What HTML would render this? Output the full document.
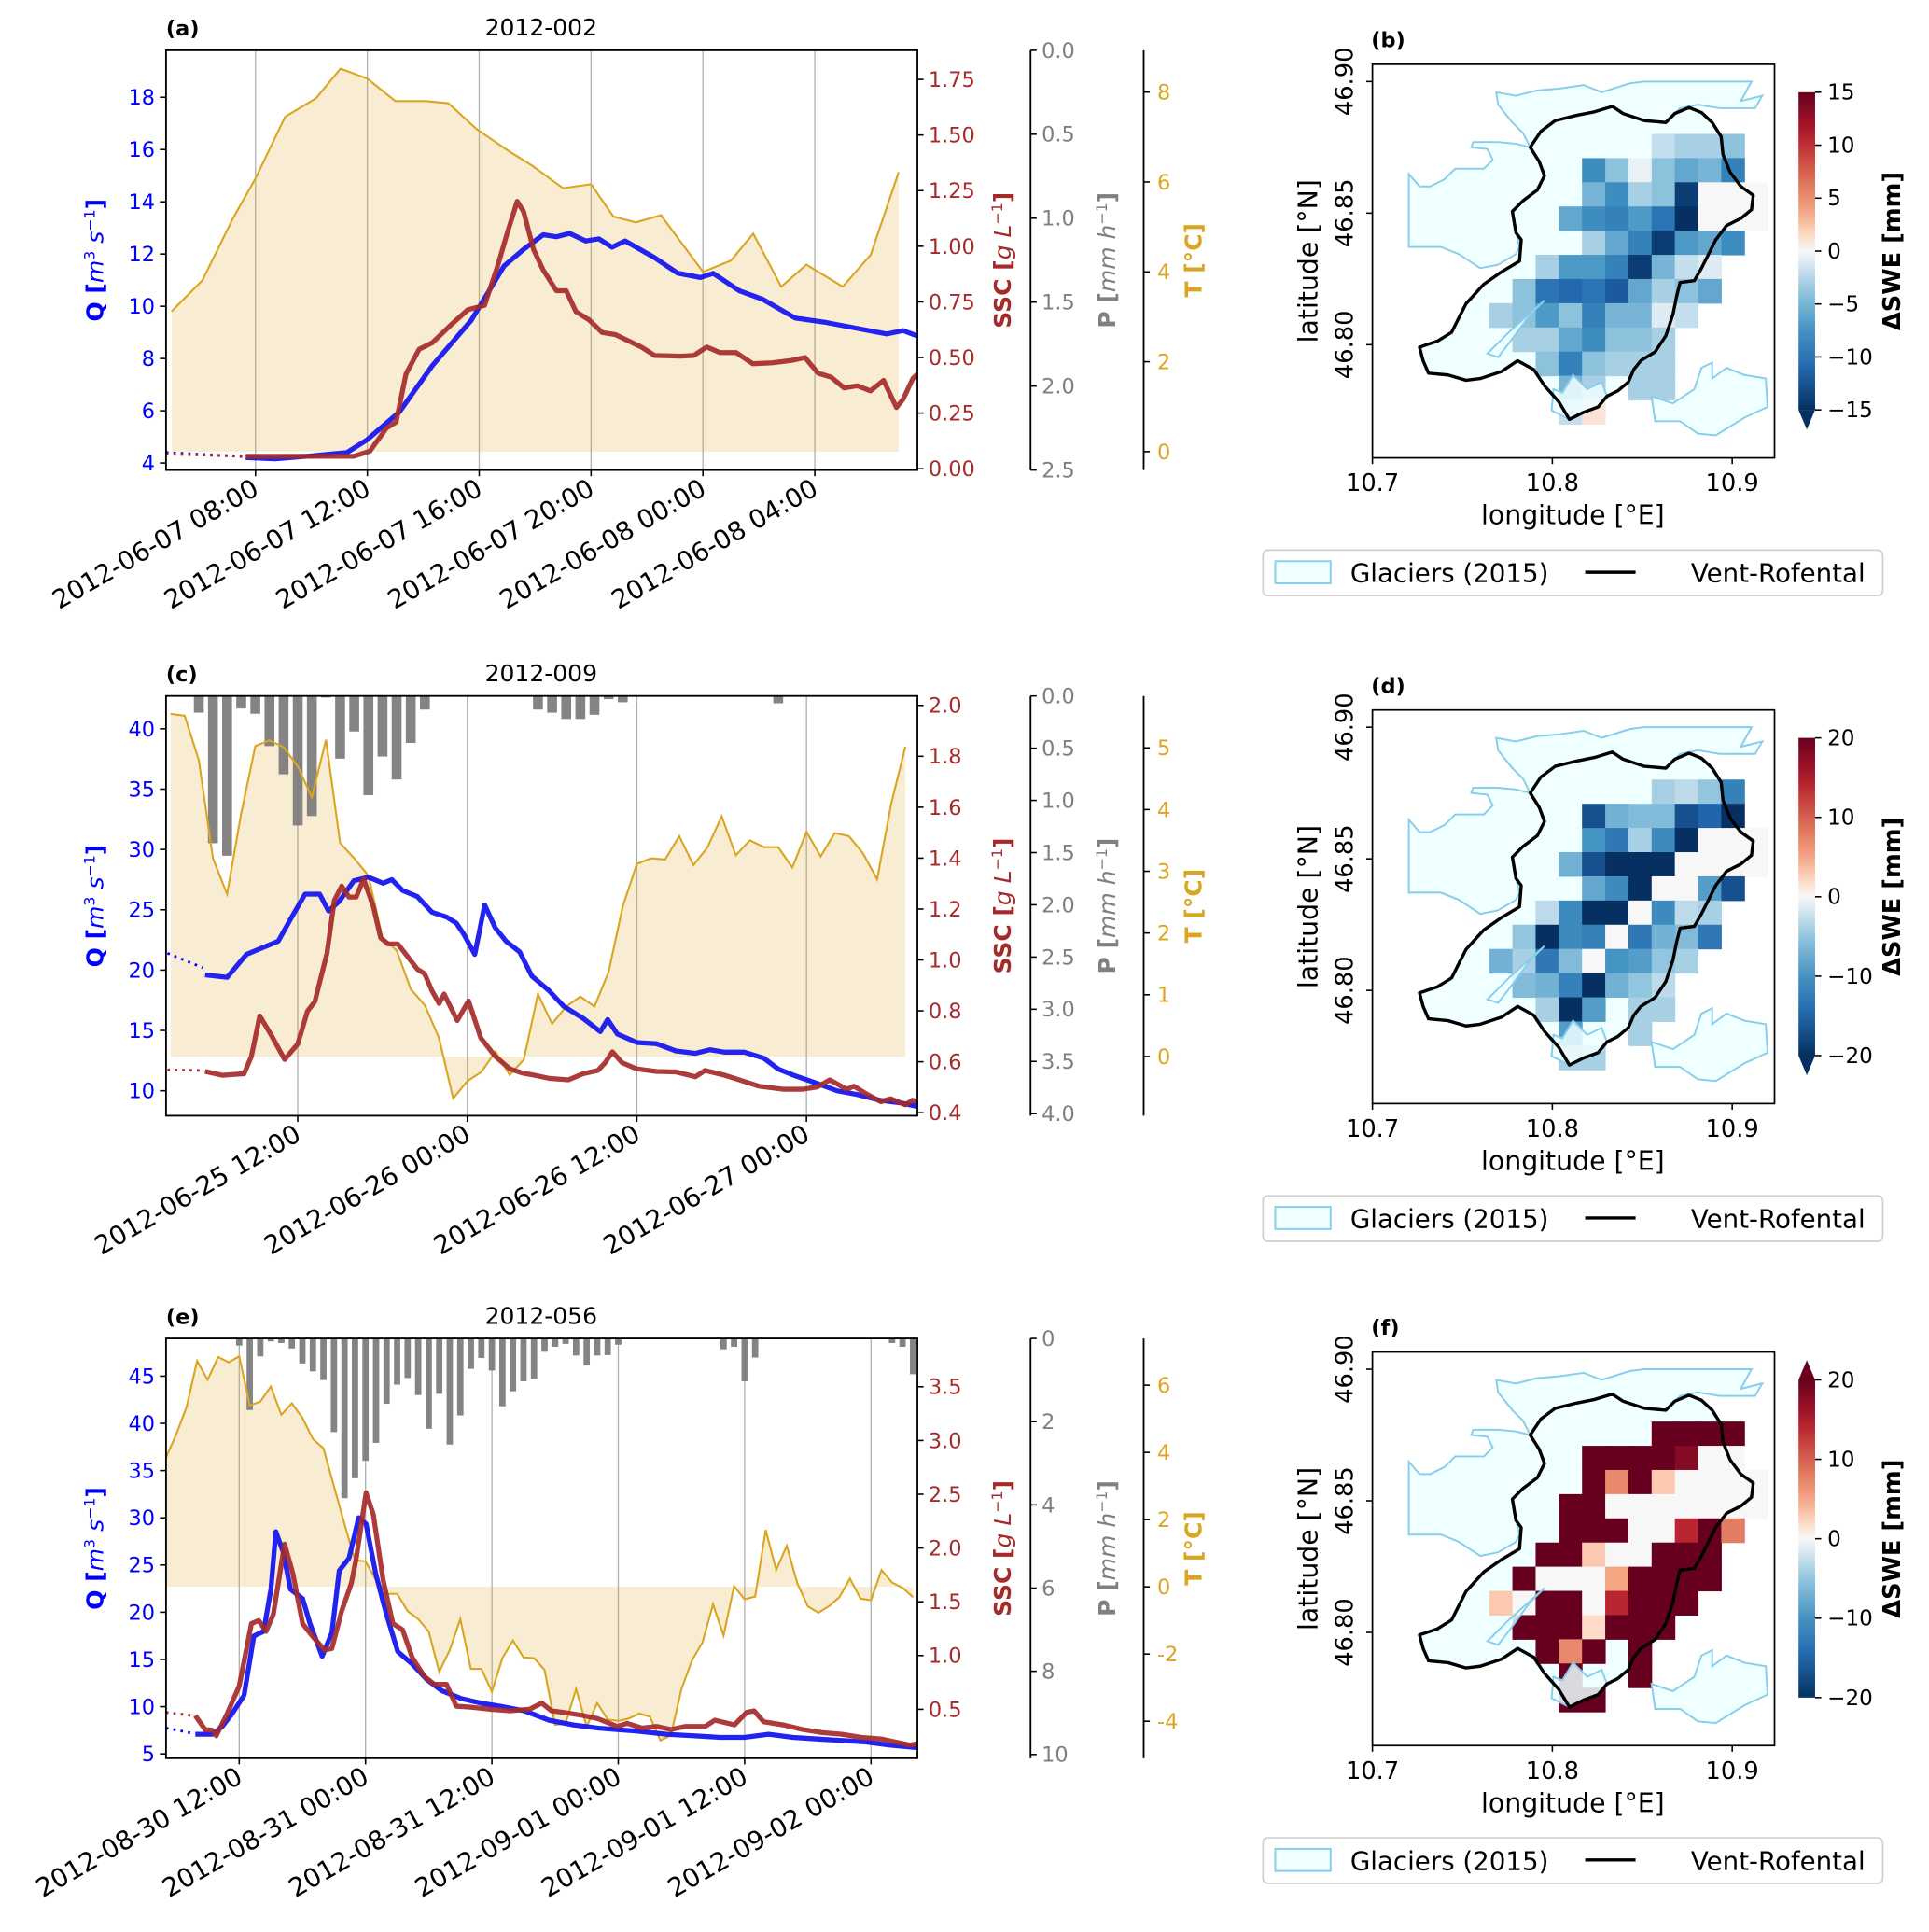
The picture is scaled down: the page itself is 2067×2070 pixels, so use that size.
<!DOCTYPE html>
<html><head><meta charset="utf-8"><style>
html,body{margin:0;padding:0;background:#fff;}
svg{display:block;font-family:"DejaVu Sans","Liberation Sans",sans-serif;}
</style></head><body>
<svg id="fig" width="2067" height="2070" viewBox="0 0 1568.6 1570.3" xmlns="http://www.w3.org/2000/svg"></svg>
<script>
// ---------------- Panel (a) data (hours from 2012-06-07 08:00) ----------------
const aTH=[-3,-1.9,-0.8,0,1.06,2.16,3.04,4,5,6.1,6.9,7.9,9,9.9,11,12,12.8,13.6,14.5,16,17,17.8,18.8,19.7,21,22,23];
const aT=[3.12,3.81,5.2,6.08,7.45,7.86,8.52,8.3,7.8,7.8,7.75,7.18,6.71,6.36,5.86,5.95,5.23,5.1,5.26,4.0,4.25,4.85,3.67,4.16,3.67,4.38,6.22];
const aQdH=[-3.2,-0.35], aQd=[4.40,4.24];
const aQH=[-0.35,0.70,1.87,3.27,3.98,5.15,6.32,7.72,8.89,9.59,10.29,10.76,11.23,11.81,12.28,12.75,13.22,14.27,15.09,15.91,16.37,17.31,18.13,19.30,20.35,22.57,23.16,23.67];
const aQ=[4.21,4.16,4.26,4.40,4.88,5.96,7.72,9.47,11.54,12.18,12.74,12.66,12.79,12.50,12.58,12.26,12.50,11.86,11.27,11.10,11.26,10.59,10.27,9.55,9.39,8.94,9.07,8.86];
const aSdH=[-3.2,-0.35], aSd=[0.066,0.056];
const aSH=[-0.35,3.51,4.09,4.68,5.03,5.38,5.85,6.32,7.02,7.60,8.19,8.66,9.01,9.36,9.59,9.94,10.29,10.76,11.11,11.46,11.93,12.40,12.87,13.33,13.80,14.27,15.20,15.67,16.14,16.61,17.19,17.78,18.48,19.18,19.65,20.12,20.58,21.05,21.52,21.99,22.46,22.92,23.16,23.51,23.67];
const aS=[0.056,0.056,0.079,0.182,0.21,0.425,0.537,0.566,0.65,0.715,0.734,0.912,1.062,1.202,1.155,0.987,0.893,0.80,0.80,0.706,0.669,0.612,0.603,0.575,0.547,0.509,0.506,0.509,0.547,0.522,0.522,0.472,0.476,0.487,0.50,0.429,0.412,0.363,0.373,0.35,0.397,0.275,0.313,0.406,0.425];
const aPH=[], aP=[];
const aTickH=[0,4,8,12,16,20];
const aTickLab=["2012-06-07 08:00","2012-06-07 12:00","2012-06-07 16:00","2012-06-07 20:00","2012-06-08 00:00","2012-06-08 04:00"];

// ---------------- Panel (c) data (hours from 2012-06-25 12:00) ----------------
const cTH=[-9,-8,-7,-6,-5,-4,-3,-2,-1,0,1,2,3,4,5,6,7,8,9,10,11,12,13,14,15,16,17,18,19,20,21,22,23,24,25,26,27,28,29,30,31,32,33,34,35,36,37,38,39,40,41,42,43];
const cT=[5.55,5.52,4.80,3.21,2.63,3.94,5.03,5.12,5.01,4.70,4.20,5.13,3.46,3.21,2.93,1.92,1.72,1.09,0.83,0.30,-0.68,-0.40,-0.25,0.08,-0.30,-0.05,1.01,0.53,0.81,0.97,0.81,1.37,2.43,3.12,3.21,3.19,3.57,3.10,3.39,3.89,3.26,3.50,3.39,3.39,3.06,3.64,3.24,3.62,3.57,3.29,2.87,4.10,5.02];
const cQdH=[-9.22,-6.73], cQd=[21.4,20.2];
const cQH=[-6.56,-5.0,-3.63,-1.38,-0.52,0.52,1.55,2.18,2.94,3.97,5.0,6.04,6.66,7.42,8.46,9.5,10.53,11.22,11.74,12.53,13.23,13.98,14.74,15.71,16.57,17.78,18.82,20.2,21.41,21.93,22.62,24.0,25.38,26.76,28.14,29.18,30.21,31.6,32.98,34.0,35.05,36.77,38.16,39.54,41.26,42.64,43.85];
const cQ=[19.6,19.4,21.3,22.4,24.2,26.3,26.3,24.9,25.7,27.4,27.7,27.2,27.5,26.6,26.1,24.8,24.4,23.9,23.0,21.3,25.4,23.5,22.4,21.5,19.5,18.3,17.0,16.0,14.9,15.9,14.7,14.0,13.9,13.3,13.1,13.4,13.2,13.2,12.7,11.8,11.3,10.6,10.0,9.7,9.2,9.0,8.7];
const cSdH=[-9.22,-6.73], cSd=[0.568,0.566];
const cSH=[-6.56,-5.35,-3.80,-3.28,-2.69,-1.90,-0.93,0,0.69,1.21,2.07,2.59,3.11,3.63,4.14,4.66,5.35,5.87,6.39,7.08,7.77,8.46,8.98,9.5,10.01,10.36,11.29,12.09,12.95,13.98,15.02,15.88,16.75,17.78,19.16,20.2,21.24,21.75,22.27,22.96,24.0,25.38,26.76,28.14,28.83,30.21,31.25,32.63,34.36,35.74,36.77,37.64,38.85,39.36,40.23,41.26,41.95,42.99,43.51,43.85];
const cS=[0.562,0.547,0.553,0.621,0.780,0.707,0.609,0.670,0.799,0.836,1.026,1.234,1.290,1.247,1.247,1.318,1.210,1.087,1.063,1.063,1.014,0.964,0.946,0.879,0.829,0.866,0.762,0.839,0.694,0.621,0.572,0.556,0.547,0.535,0.529,0.553,0.566,0.596,0.639,0.596,0.572,0.562,0.560,0.541,0.566,0.547,0.529,0.504,0.492,0.492,0.501,0.529,0.492,0.504,0.474,0.443,0.455,0.431,0.449,0.443];
const cPH=[-7,-6,-5,-4,-3,-2,-1,0,1,2,3,4,5,6,7,8,9,17,18,19,20,21,22,23,34];
const cP=[0.16,1.41,1.53,0.12,0.17,0.48,0.75,1.24,1.15,0.015,0.6,0.34,0.95,0.58,0.8,0.45,0.13,0.13,0.16,0.22,0.22,0.18,0.03,0.06,0.07];
const cTickH=[0,12,24,36];
const cTickLab=["2012-06-25 12:00","2012-06-26 00:00","2012-06-26 12:00","2012-06-27 00:00"];

// ---------------- Panel (e) data (hours from 2012-08-30 12:00) ----------------
const eTH=[-7,-6,-5,-4,-3,-2,-1,0,1,2,3,4,5,6,7,8,9,10,11,12,13,14,15,16,17,18,19,20,21,22,23,24,25,26,27,28,29,30,31,32,33,34,35,36,37,38,39,40,41,42,43,44,45,46,47,48,49,50,51,52,53,54,55,56,57,58,59,60,61,62,63,64];
const eT=[3.82,4.52,5.35,6.72,6.16,6.84,6.68,6.86,5.40,5.51,5.96,5.12,5.46,5.03,4.40,4.12,2.99,1.87,0.79,0.76,0.20,-0.21,-0.21,-0.72,-0.96,-1.33,-2.53,-1.88,-0.96,-2.44,-2.44,-3.12,-2.12,-1.60,-2.10,-2.12,-2.47,-4.11,-4.06,-3.04,-4.16,-3.46,-3.95,-3.99,-3.92,-3.77,-3.86,-4.57,-4.42,-3.04,-2.19,-1.65,-0.52,-1.45,0.02,-0.37,-0.29,1.69,0.50,1.22,0.11,-0.58,-0.77,-0.58,-0.31,0.25,-0.35,-0.40,0.50,0.13,-0.03,-0.31];
const eQdH=[-6.95,-4.40], eQd=[7.74,7.18];
const eQH=[-4.17,-2.55,-1.62,-0.70,0.46,1.39,2.32,3.01,3.48,4.17,4.87,6.02,6.72,7.88,8.80,9.50,10.43,11.35,12.05,12.97,13.90,15.06,16.45,17.84,19.23,21.08,22.94,24.79,27.11,29.43,31.74,34.06,35.91,37.77,40.55,43.33,45.64,47.96,50.28,52.59,54.91,57.23,59.55,61.86,64.41];
const eQ=[7.08,7.08,7.90,9.22,11.20,17.48,17.97,22.43,28.53,26.39,22.43,21.44,18.80,15.33,17.81,24.40,25.72,30.01,29.35,24.08,20.12,15.83,14.50,12.85,11.70,10.87,10.38,10.05,9.55,8.56,8.07,7.74,7.57,7.41,7.08,6.91,6.75,6.75,7.08,6.75,6.58,6.42,6.25,5.92,5.66];
const eSdH=[-6.95,-4.40], eSd=[0.471,0.442];
const eSH=[-4.17,-3.24,-2.55,-2.18,-1.16,0,1.16,1.85,2.55,3.24,4.31,5.10,6.02,6.95,8.11,8.80,9.73,10.66,11.12,12.05,12.74,13.67,14.60,15.52,16.45,17.61,18.54,19.69,20.62,22.01,23.86,25.72,27.57,28.73,29.66,30.81,32.67,34.06,35.91,36.84,38.23,39.62,41.01,42.40,44.25,45.18,47.03,48.19,48.89,49.81,51.67,53.52,55.38,57.23,59.08,60.94,62.33,63.72,64.41];
const eS=[0.442,0.312,0.306,0.254,0.457,0.717,1.297,1.326,1.225,1.384,2.036,1.761,1.297,1.181,1.051,1.065,1.413,1.674,1.906,2.514,2.312,1.703,1.297,1.239,0.978,0.804,0.732,0.732,0.529,0.520,0.500,0.486,0.500,0.558,0.486,0.471,0.442,0.413,0.341,0.370,0.326,0.341,0.312,0.341,0.341,0.399,0.355,0.471,0.486,0.384,0.355,0.312,0.283,0.268,0.239,0.225,0.196,0.167,0.181];
const ePH=[0,1,2,3,4,5,6,7,8,9,10,11,12,13,14,15,16,17,18,19,20,21,22,23,24,25,26,27,28,29,30,31,32,33,34,35,36,46,47,48,49,62,63,64];
const eP=[0.17,1.72,0.43,0.07,0.11,0.24,0.60,0.79,1.0,2.25,3.84,3.36,2.94,2.51,1.57,1.11,0.95,1.36,2.17,1.33,2.55,1.85,0.73,0.47,0.77,1.63,1.27,1.03,0.97,0.32,0.20,0.13,0.41,0.65,0.41,0.40,0.15,0.26,0.20,1.03,0.46,0.11,0.20,0.86];
const eTickH=[0,12,24,36,48,60];
const eTickLab=["2012-08-30 12:00","2012-08-31 00:00","2012-08-31 12:00","2012-09-01 00:00","2012-09-01 12:00","2012-09-02 00:00"];

// ---------------- Map data: ΔSWE grids (12x12, rows north->south) ----------------
const N=null;
const bSWE=[
[N,N,N,N,N,N,N,-2,-3,-3,-4,N],
[N,N,N,N,-8,-4,-0.5,-4,-6,-5,-9,N],
[N,N,N,N,-5,-8,-3,-4,-14,0,0,0],
[N,N,N,-6,-8,-9,-7,-10,-15,0,0,0],
[N,N,N,N,-3,-6,-9,-14,-7,-6,-8,N],
[N,N,-3,-7,-7,-9,-14,-5,-2,-1,N,N],
[N,-4,-10,-11,-10,-12,-6,-3,-4,-6,N,N],
[-3,-4,-7,-4,-9,-5,-5,-1,-2,N,N,N],
[N,-3,-3,-6,-8,-4,-4,-3,N,N,N,N],
[N,N,-4,-9,-4,-3,-3,-3,N,N,N,N],
[N,N,N,-5,-3,N,-3,-3,N,N,N,N],
[N,N,N,-2,1,N,N,N,N,N,N,N]];
const dSWE=[
[N,N,N,N,N,N,N,-4,-3,-5,-12,N],
[N,N,N,N,-17,-7,-6,-6,-17,-15,-20,N],
[N,N,N,N,-10,-13,-4,-11,-20,0,0,0],
[N,N,N,-7,-17,-20,-20,-20,0,0,0,0],
[N,N,N,N,-8,-11,-20,0,0,-9,-17,N],
[N,N,-3,-11,-20,-20,0,-11,-3,-4,N,N],
[N,-5,-20,-11,-12,0,-13,-7,-6,-13,N,N],
[-7,-4,-13,-6,0,-10,-9,-5,-4,N,N,N],
[N,-6,-7,-12,-20,-7,-5,-3,N,N,N,N],
[N,N,-4,-20,-9,N,-4,-4,N,N,N,N],
[N,N,N,-9,N,N,-4,N,N,N,N,N],
[N,N,N,-4,-4,N,N,N,N,N,N,N]];
const fSWE=[
[N,N,N,N,N,N,N,25,25,25,25,N],
[N,N,N,N,25,25,25,25,18,0,0,N],
[N,N,N,N,25,7,25,3,0,0,0,0],
[N,N,N,25,25,0,0,0,0,0,0,0],
[N,N,N,25,25,25,0,0,14,25,8,N],
[N,N,25,22,3,0,0,25,25,25,N,N],
[N,25,0,0,0,5,25,25,25,25,N,N],
[3,0,25,25,0,14,25,25,25,N,N,N],
[N,25,25,20,2,25,25,25,N,N,N,N],
[N,N,25,7,25,N,25,N,N,N,N,N],
[N,N,N,25,N,N,25,N,N,N,N,N],
[N,N,N,25,25,N,N,N,N,N,N,N]];
const lonTicks=[10.7,10.8,10.9], latTicks=[46.80,46.85,46.90];

// ---------------- drawing helpers ----------------
const NS="http://www.w3.org/2000/svg";
const svg=document.getElementById('fig');
function el(tag,attrs,parent,text){const e=document.createElementNS(NS,tag);for(const k in attrs)e.setAttribute(k,attrs[k]);if(text!==undefined)e.textContent=text;(parent||svg).appendChild(e);return e;}
const F=17;
function poly(xs,ys,fx,fy){return xs.map((h,i)=>fx(h).toFixed(2)+','+fy(ys[i]).toFixed(2)).join(' ');}

function drawTS(s){
  const g=el('g',{},svg);
  
  
  const L=135,R=746,T=s.top,B=s.top+341.3;
  const xs=h=>L+(h-s.hmin)/(s.hmax-s.hmin)*(R-L);
  const yQ=v=>B-(v-s.qmin)/(s.qmax-s.qmin)*(B-T);
  const yS=v=>B-(v-s.smin)/(s.smax-s.smin)*(B-T);
  const yP=v=>T+v/s.pmax*(B-T);
  const yT=v=>B-(v-s.tmin)/(s.tmax-s.tmin)*(B-T);
  const clipId='clip'+s.id;
  const cp=el('clipPath',{id:clipId},g); el('rect',{x:L,y:T,width:R-L,height:B-T},cp);
  const pg=el('g',{'clip-path':'url(#'+clipId+')'},g);
  s.ticks.forEach(h=>{const ln=el('line',{x1:xs(h),x2:xs(h),y1:T,y2:B,stroke:'#b0b0b0','stroke-width':1},pg);
    });
  const tpts=poly(s.th,s.t,xs,yT);
  const fill=el('polygon',{points:xs(s.th[0])+','+yT(0)+' '+tpts+' '+xs(s.th[s.th.length-1])+','+yT(0),fill:'#daa520','fill-opacity':0.2,stroke:'none'},pg);
  
  s.ph.forEach((h,i)=>{const w=s.bw/(s.hmax-s.hmin)*(R-L);
    const r=el('rect',{x:xs(h)-w/2,y:T,width:w,height:yP(s.p[i])-T,fill:'#7a7a7a','fill-opacity':0.92},pg);
    });
  const tl=el('polyline',{points:tpts,fill:'none',stroke:'#daa520','stroke-width':1.6},pg);
  
  const qd=el('polyline',{points:poly(s.qdh,s.qd,xs,yQ),fill:'none',stroke:'#0000ff','stroke-width':2.2,'stroke-dasharray':'2 4'},pg);
  
  const ql=el('polyline',{points:poly(s.qh,s.q,xs,yQ),fill:'none',stroke:'#1010f0','stroke-width':4,'stroke-linejoin':'round',opacity:0.92},pg);
  
  const sd=el('polyline',{points:poly(s.sdh,s.sd,xs,yS),fill:'none',stroke:'#a52a2a','stroke-width':2.2,'stroke-dasharray':'2 4'},pg);
  
  const sl=el('polyline',{points:poly(s.sh,s.s,xs,yS),fill:'none',stroke:'#a52a2a','stroke-width':4,'stroke-linejoin':'round',opacity:0.92},pg);
  
  el('rect',{x:L,y:T,width:R-L,height:B-T,fill:'none',stroke:'#000','stroke-width':1.4},g);
  s.ticks.forEach((h,i)=>{const x=xs(h);el('line',{x1:x,x2:x,y1:B,y2:B+5,stroke:'#000','stroke-width':1.2},g);
    const t=el('text',{x:x+4,y:B+19,'font-size':21,'text-anchor':'end',transform:'rotate(-30 '+(x+4)+' '+(B+19)+')'},g,s.tickLab[i]);
    });
  s.qticks.forEach(v=>{const y=yQ(v);el('line',{x1:L-5,x2:L,y1:y,y2:y,stroke:'#000','stroke-width':1.2},g);
    el('text',{x:L-9,y:y+6,'font-size':F,'text-anchor':'end',fill:'#0000ff'},g,String(v));});
  s.sticks.forEach(v=>{const y=yS(v);el('line',{x1:R,x2:R+5,y1:y,y2:y,stroke:'#000','stroke-width':1.2},g);
    el('text',{x:R+9,y:y+6,'font-size':F,fill:'#a52a2a'},g,v.toFixed(s.sdec));});
  const PX=838;
  el('line',{x1:PX,x2:PX,y1:T,y2:B,stroke:'#000','stroke-width':1.4},g);
  s.pticks.forEach(v=>{const y=yP(v);el('line',{x1:PX,x2:PX+5,y1:y,y2:y,stroke:'#000','stroke-width':1.2},g);
    el('text',{x:PX+9,y:y+6,'font-size':F,fill:'#808080'},g,v.toFixed(s.pdec));});
  const TX=930;
  el('line',{x1:TX,x2:TX,y1:T,y2:B,stroke:'#000','stroke-width':1.4},g);
  s.tticks.forEach(v=>{const y=yT(v);el('line',{x1:TX,x2:TX+5,y1:y,y2:y,stroke:'#000','stroke-width':1.2},g);
    el('text',{x:TX+11,y:y+6,'font-size':F,fill:'#daa520'},g,String(v));});
  const mid=(T+B)/2;
  const q=el('text',{x:84,y:mid,'font-size':19,fill:'#0000ff','text-anchor':'middle',transform:'rotate(-90 84 '+mid+')'},g);
  
  q.innerHTML='<tspan font-weight="bold">Q [</tspan><tspan font-style="italic">m</tspan><tspan font-size="12" dy="-7">3</tspan><tspan dy="7" font-style="italic"> s</tspan><tspan font-size="12" dy="-7">−1</tspan><tspan dy="7" font-weight="bold">]</tspan>';
  const ss=el('text',{x:822,y:mid,'font-size':19,fill:'#a52a2a','text-anchor':'middle',transform:'rotate(-90 822 '+mid+')'},g);
  
  ss.innerHTML='<tspan font-weight="bold">SSC [</tspan><tspan font-style="italic">g L</tspan><tspan font-size="12" dy="-7">−1</tspan><tspan dy="7" font-weight="bold">]</tspan>';
  const pp=el('text',{x:907,y:mid,'font-size':19,fill:'#808080','text-anchor':'middle',transform:'rotate(-90 907 '+mid+')'},g);
  
  pp.innerHTML='<tspan font-weight="bold">P [</tspan><tspan font-style="italic">mm h</tspan><tspan font-size="12" dy="-7">−1</tspan><tspan dy="7" font-weight="bold">]</tspan>';
  const tt=el('text',{x:977,y:mid,'font-size':19,fill:'#daa520','font-weight':'bold','text-anchor':'middle',transform:'rotate(-90 977 '+mid+')'},g,'T [°C]');
  
  const pl=el('text',{x:135,y:T-12,'font-size':17,'font-weight':'bold'},g,'('+s.id+')');
  
  const ti=el('text',{x:440,y:T-12,'font-size':19,'text-anchor':'middle'},g,s.title);
  
}

drawTS({id:'a',title:'2012-002',top:40.6,hmin:-3.2,hmax:23.67,qmin:3.73,qmax:19.8,smin:-0.006,smax:1.881,pmax:2.5,tmin:-0.41,tmax:8.93,
  th:aTH,t:aT,qdh:aQdH,qd:aQd,qh:aQH,q:aQ,sdh:aSdH,sd:aSd,sh:aSH,s:aS,ph:aPH,p:aP,bw:0.7,ticks:aTickH,tickLab:aTickLab,
  qticks:[4,6,8,10,12,14,16,18],sticks:[0,0.25,0.5,0.75,1.0,1.25,1.5,1.75],sdec:2,pticks:[0,0.5,1,1.5,2,2.5],pdec:1,tticks:[0,2,4,6,8]});
drawTS({id:'c',title:'2012-009',top:565.6,hmin:-9.32,hmax:43.85,qmin:7.93,qmax:42.72,smin:0.388,smax:2.037,pmax:4.02,tmin:-0.96,tmax:5.84,
  th:cTH,t:cT,qdh:cQdH,qd:cQd,qh:cQH,q:cQ,sdh:cSdH,sd:cSd,sh:cSH,s:cS,ph:cPH,p:cP,bw:0.7,ticks:cTickH,tickLab:cTickLab,
  qticks:[10,15,20,25,30,35,40],sticks:[0.4,0.6,0.8,1.0,1.2,1.4,1.6,1.8,2.0],sdec:1,pticks:[0,0.5,1,1.5,2,2.5,3,3.5,4],pdec:1,tticks:[0,1,2,3,4,5]});
drawTS({id:'e',title:'2012-056',top:1088,hmin:-6.95,hmax:64.41,qmin:4.54,qmax:48.99,smin:0.045,smax:3.949,pmax:10.09,tmin:-5.10,tmax:7.39,
  th:eTH,t:eT,qdh:eQdH,qd:eQd,qh:eQH,q:eQ,sdh:eSdH,sd:eSd,sh:eSH,s:eS,ph:ePH,p:eP,bw:0.6,ticks:eTickH,tickLab:eTickLab,
  qticks:[5,10,15,20,25,30,35,40,45],sticks:[0.5,1.0,1.5,2.0,2.5,3.0,3.5],sdec:1,pticks:[0,2,4,6,8,10],pdec:0,tticks:[-4,-2,0,2,4,6]});

// ---------------- maps ----------------
const stops=[[-1,[5,48,97]],[-0.75,[33,102,172]],[-0.5,[67,147,195]],[-0.25,[146,197,222]],[-0.1,[209,229,240]],[0,[247,247,247]],[0.1,[253,219,199]],[0.25,[244,165,130]],[0.5,[214,96,77]],[0.75,[178,24,43]],[1,[103,0,31]]];
function cmap(t){t=Math.max(-1,Math.min(1,t));for(let i=1;i<stops.length;i++){if(t<=stops[i][0]){const a=stops[i-1],b=stops[i],f=(t-a[0])/(b[0]-a[0]);
  return 'rgb('+a[1].map((c,k)=>Math.round(c+(b[1][k]-c)*f)).join(',')+')';}}return 'rgb(103,0,31)';}
const catchPx=[[370,922],[380,960],[395,995],[450,1000],[500,1015],[540,1010],[600,990],[645,960],[690,985],[720,1030],[760,1075],[790,1125],[830,1105],[870,1090],[895,1060],[925,1045],[955,1020],[970,985],[990,960],[1030,935],[1060,890],[1080,830],[1090,780],[1100,740],[1140,735],[1160,700],[1180,660],[1200,620],[1230,580],[1270,560],[1300,535],[1305,495],[1270,470],[1240,430],[1220,380],[1215,330],[1190,290],[1160,262],[1125,248],[1085,265],[1060,290],[1000,285],[940,265],[910,245],[860,260],[810,270],[750,285],[710,315],[680,360],[705,400],[720,440],[700,480],[660,510],[630,540],[640,600],[655,620],[650,680],[600,710],[550,745],[500,800],[480,840],[460,880],[420,905]];
const glacPx=[
[[340,435],[340,640],[430,640],[480,660],[540,700],[590,690],[640,660],[650,640],[640,600],[630,540],[660,510],[700,480],[720,440],[705,400],[680,360],[640,350],[590,345],[520,345],[515,360],[560,365],[575,395],[550,420],[470,420],[440,450],[400,470],[370,470]],
[[585,205],[640,215],[700,200],[760,195],[830,185],[880,205],[960,180],[1000,175],[1300,175],[1270,230],[1330,215],[1310,250],[1210,250],[1150,240],[1100,250],[1060,290],[1000,285],[940,265],[910,245],[860,260],[810,270],[750,285],[710,315],[680,360],[660,320],[630,290],[590,240]],
[[1020,1060],[1080,1080],[1140,1040],[1160,980],[1190,965],[1190,1010],[1230,980],[1280,1000],[1340,1010],[1345,1090],[1280,1120],[1200,1170],[1150,1165],[1100,1130],[1030,1130]],
[[560,940],[620,880],[720,790],[680,830],[625,905],[590,950]],
[[740,1100],[790,1125],[830,1105],[870,1090],[895,1060],[880,1020],[840,1040],[800,1000],[770,1050],[745,1040]]];
const lonOf=p=>10.7+(p-238)/5040, latOf=p=>46.90-(p-175)/7400;

function drawMap(id,dy,grid,vmax,ticks,ext){
  const g=el('g',{},svg);
  
  const L=1116,R=1443,T=52+dy,B=372+dy;
  const X=lon=>1116+(lon-10.7)*1463, Y=lat=>66+dy+(46.90-lat)*2140;
  const toPts=arr=>arr.map(p=>X(lonOf(p[0])).toFixed(1)+','+Y(latOf(p[1])).toFixed(1)).join(' ');
  const cpid='mclip'+id; const cp=el('clipPath',{id:cpid},g); el('rect',{x:L,y:T,width:R-L,height:B-T},cp);
  const mg=el('g',{'clip-path':'url(#'+cpid+')'},g);
  el('polygon',{points:toPts(catchPx),fill:'#f0ffff',stroke:'none'},mg);
  glacPx.forEach(gp=>el('polygon',{points:toPts(gp),fill:'#f0ffff',stroke:'none'},mg));
  const lon0=10.7649,dlon=0.0129,lat0=46.8801,dlat=0.00919;
  grid.forEach((row,r)=>row.forEach((v,c)=>{if(v===null)return;
    const x0=X(lon0+c*dlon),x1=X(lon0+(c+1)*dlon),y0=Y(lat0-r*dlat),y1=Y(lat0-(r+1)*dlat);
    const rc=el('rect',{x:x0,y:y0,width:x1-x0+0.4,height:y1-y0+0.4,fill:cmap(v/vmax)},mg);
    }));
  glacPx.forEach(gp=>{const p=el('polygon',{points:toPts(gp),fill:'#f0ffff','fill-opacity':0.85,stroke:'#87ceeb','stroke-width':1.5},mg);
    });
  const cl=el('polygon',{points:toPts(catchPx),fill:'none',stroke:'#000','stroke-width':2.6,'stroke-linejoin':'round'},mg);
  
  el('rect',{x:L,y:T,width:R-L,height:B-T,fill:'none',stroke:'#000','stroke-width':1.3},g);
  lonTicks.forEach(v=>{const x=X(v);el('line',{x1:x,x2:x,y1:B,y2:B+5,stroke:'#000','stroke-width':1.2},g);
    el('text',{x:x,y:B+27,'font-size':19.5,'text-anchor':'middle'},g,v.toFixed(1));});
  latTicks.forEach(v=>{const y=Y(v);el('line',{x1:L-5,x2:L,y1:y,y2:y,stroke:'#000','stroke-width':1.2},g);
    el('text',{x:L-16,y:y,'font-size':19.5,'text-anchor':'middle',transform:'rotate(-90 '+(L-16)+' '+y+')'},g,v.toFixed(2));});
  const xl=el('text',{x:1279,y:B+54,'font-size':21.5,'text-anchor':'middle'},g,'longitude [°E]');
  
  const ym=(T+B)/2;
  const yl=el('text',{x:1071,y:ym,'font-size':21.5,'text-anchor':'middle',transform:'rotate(-90 1071 '+ym+')'},g,'latitude [°N]');
  
  const pl=el('text',{x:1115,y:38+dy,'font-size':17,'font-weight':'bold'},g,'('+id+')');
  
  const cx=1462.5,cw=13.5,ct=74.7+dy,cb=333+dy;
  const gid='cg'+id; const lg=el('linearGradient',{id:gid,x1:0,y1:1,x2:0,y2:0},g);
  for(let i=0;i<=20;i++){const t=-1+i/10;el('stop',{offset:(i/20),'stop-color':cmap(t)},lg);}
  const cbr=el('rect',{x:cx,y:ct,width:cw,height:cb-ct,fill:'url(#'+gid+')',stroke:'none'},g);
  
  if(ext==='min') el('polygon',{points:cx+','+cb+' '+(cx+cw)+','+cb+' '+(cx+cw/2)+','+(cb+16),fill:cmap(-1)},g);
  if(ext==='max') el('polygon',{points:cx+','+ct+' '+(cx+cw)+','+ct+' '+(cx+cw/2)+','+(ct-16),fill:cmap(1)},g);
  ticks.forEach(v=>{const y=cb-(v+vmax)/(2*vmax)*(cb-ct);el('line',{x1:cx+cw,x2:cx+cw+5,y1:y,y2:y,stroke:'#000','stroke-width':1.2},g);
    el('text',{x:cx+cw+10,y:y+6,'font-size':17.5},g,(v<0?'−':'')+Math.abs(v));});
  const cm=(ct+cb)/2;
  const ct2=el('text',{x:1545,y:cm,'font-size':19.5,'font-weight':'bold','text-anchor':'middle',transform:'rotate(-90 1545 '+cm+')'},g,'ΔSWE [mm]');
  
  const lgG=el('g',{},g);
  const ly=447+dy;
  el('rect',{x:1027,y:ly,width:504,height:37,rx:4,fill:'#fff',stroke:'#d0d0d0','stroke-width':1.3},lgG);
  el('rect',{x:1037,y:ly+9,width:45,height:18,fill:'#f0ffff',stroke:'#87ceeb','stroke-width':1.5},lgG);
  el('text',{x:1098,y:ly+26,'font-size':21},lgG,'Glaciers (2015)');
  el('line',{x1:1289,x2:1330,y1:ly+18,y2:ly+18,stroke:'#000','stroke-width':2.6},lgG);
  el('text',{x:1375,y:ly+26,'font-size':21},lgG,'Vent-Rofental');
}
drawMap('b',0,bSWE,15,[-15,-10,-5,0,5,10,15],'min');
drawMap('d',525,dSWE,20,[-20,-10,0,10,20],'min');
drawMap('f',1047,fSWE,20,[-20,-10,0,10,20],'max');
</script>
</body></html>
